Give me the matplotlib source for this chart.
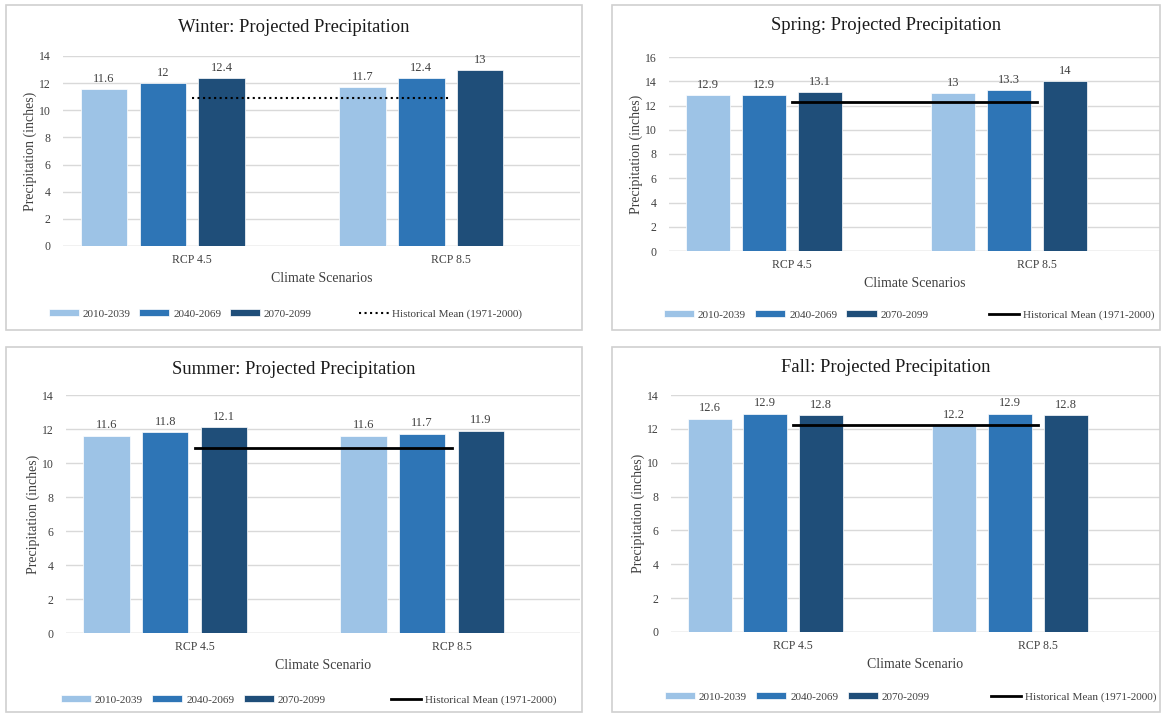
import numpy as np
import matplotlib.pyplot as plt
from matplotlib.patches import Rectangle

plt.rcParams['font.family'] = ['Liberation Serif', 'DejaVu Serif']

scenarios = ['RCP 4.5', 'RCP 8.5']
periods = ['2010-2039', '2040-2069', '2070-2099']
colors = ['#9DC3E6', '#2E75B6', '#1F4E79']
hist_label = 'Historical Mean (1971-2000)'

# values per period, [RCP 4.5, RCP 8.5]
winter_vals = [[11.6, 11.7], [12.0, 12.4], [12.4, 13.0]]
spring_vals = [[12.9, 13.0], [12.9, 13.3], [13.1, 14.0]]
summer_vals = [[11.6, 11.6], [11.8, 11.7], [12.1, 11.9]]
fall_vals = [[12.6, 12.2], [12.9, 12.9], [12.8, 12.8]]

winter_hist = 10.9
spring_hist = 12.3
summer_hist = 10.9
fall_hist = 12.2

W, H = 1167, 715
fig = plt.figure(figsize=(W / 100, H / 100), dpi=100)


def px_axes(l, t, r, b):
    return fig.add_axes([l / W, 1 - b / H, (r - l) / W, (b - t) / H])


def panel(box, ax_box, title, title_y, vals, hist, ymax, xlabel, ls, leg_y, leg_x, leg_fs):
    # chart border
    bx0, by0, bx1, by1 = box
    fig.patches.append(Rectangle((bx0 / W, 1 - by1 / H), (bx1 - bx0) / W, (by1 - by0) / H,
                                 transform=fig.transFigure, fill=False,
                                 edgecolor='#D0D0D0', lw=1.2))
    fig.text((bx0 + bx1) / 2 / W, 1 - title_y / H, title, ha='center', va='center',
             fontsize=13.4, color='#1a1a1a')

    ax = px_axes(*ax_box)
    x = np.arange(len(scenarios))
    step, width = 0.228, 0.18
    handles = []
    for k in range(3):
        pos = x + (k - 1.5) * step
        b = ax.bar(pos, vals[k], width, color=colors[k], label=periods[k], zorder=3,
                   edgecolor='white', linewidth=0.5)
        handles.append(b)
        for xx, v in zip(pos, vals[k]):
            ax.text(xx, v + ymax * 0.02, '{0:g}'.format(v), ha='center', va='bottom',
                    fontsize=9, color='#404040')
    ln, = ax.plot(x, [hist, hist], color='black', ls=ls,
                  lw=1.5 if ls == ':' else 2, zorder=4, label=hist_label)

    ax.set_xlim(-0.5, 1.5)
    ax.set_ylim(0, ymax)
    ax.set_yticks(np.arange(0, ymax + 1, 2))
    ax.set_xticks(x)
    ax.set_xticklabels(scenarios)
    ax.tick_params(axis='y', length=0, labelsize=8.5, colors='#404040', pad=9)
    ax.tick_params(axis='x', length=0, labelsize=8.5, colors='#404040', pad=6)
    ax.grid(axis='y', color='#D9D9D9', lw=1, zorder=0)
    for s in ax.spines.values():
        s.set_visible(False)
    ax.axhline(0, color='#D9D9D9', lw=1, zorder=1)
    ax.set_ylabel('Precipitation (inches)', fontsize=10, color='#404040', labelpad=1)
    ax.set_xlabel(xlabel, fontsize=10, color='#404040', labelpad=4)

    # legends: bar periods, then the historical mean further right
    kw = dict(frameon=False, fontsize=leg_fs, handletextpad=0.35, borderpad=0,
              labelcolor='#404040', loc='center left')
    fig.legend(handles, periods, ncol=3, handlelength=2.7, handleheight=0.55,
               columnspacing=0.8,
               bbox_to_anchor=((bx0 + leg_x[0]) / W, 1 - leg_y / H), **kw)
    fig.legend([ln], [hist_label], handlelength=2.7,
               bbox_to_anchor=((bx0 + leg_x[1]) / W, 1 - leg_y / H), **kw)


panel((6, 5, 582, 330), (63, 56, 580, 246), 'Winter: Projected Precipitation', 28,
      winter_vals, winter_hist, 14, 'Climate Scenarios', ':', 314, (37, 347), 8)
panel((612, 5, 1160, 330), (669, 57, 1160, 251), 'Spring: Projected Precipitation', 25,
      spring_vals, spring_hist, 16, 'Climate Scenarios', '-', 315, (46, 371), 8.1)
panel((6, 347, 582, 712), (66, 395, 580, 633), 'Summer: Projected Precipitation', 370,
      summer_vals, summer_hist, 14, 'Climate Scenario', '-', 700, (49, 379), 8.1)
panel((612, 347, 1160, 712), (671, 395, 1160, 632), 'Fall: Projected Precipitation', 368,
      fall_vals, fall_hist, 14, 'Climate Scenario', '-', 697, (47, 373), 8.1)

fig.savefig('out.png', dpi=100)
